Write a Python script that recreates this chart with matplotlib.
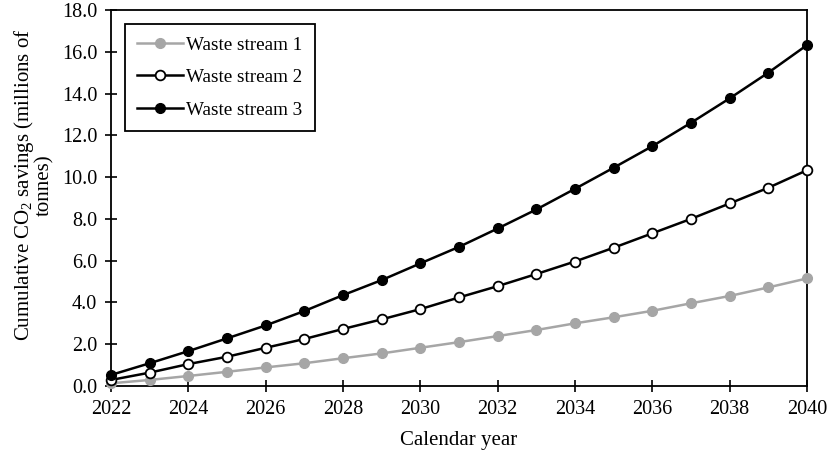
import numpy as np
import matplotlib
matplotlib.use("Agg")
import matplotlib.pyplot as plt
from matplotlib.ticker import FormatStrFormatter

plt.rcParams['font.family'] = ['Liberation Serif', 'DejaVu Serif']
plt.rcParams['mathtext.fontset'] = 'custom'
plt.rcParams['mathtext.rm'] = 'Liberation Serif'
plt.rcParams['mathtext.it'] = 'Liberation Serif:italic'

years = np.arange(2022, 2041)
stream_1 = [0.13, 0.29, 0.48, 0.68, 0.89, 1.09, 1.33, 1.56, 1.83, 2.10,
            2.39, 2.68, 3.00, 3.29, 3.60, 3.96, 4.31, 4.72, 5.15]
stream_2 = [0.29, 0.64, 1.05, 1.40, 1.83, 2.25, 2.73, 3.19, 3.68, 4.24,
            4.78, 5.36, 5.96, 6.62, 7.31, 8.00, 8.74, 9.49, 10.33]
stream_3 = [0.53, 1.09, 1.67, 2.28, 2.90, 3.59, 4.35, 5.07, 5.87, 6.66,
            7.54, 8.45, 9.44, 10.45, 11.48, 12.60, 13.77, 15.00, 16.32]
labels = ["Waste stream 1", "Waste stream 2", "Waste stream 3"]

fig = plt.figure(figsize=(8.31, 4.5), dpi=100)
ax = fig.add_axes([0.1336, 0.1422, 0.8375, 0.8356])

ax.plot(years, stream_1, '-o', color='#a6a6a6', lw=1.8, ms=7,
        mfc='#a6a6a6', mec='#a6a6a6', label=labels[0], clip_on=False, zorder=3)
ax.plot(years, stream_2, '-o', color='black', lw=1.8, ms=7,
        mfc='white', mec='black', mew=1.3, label=labels[1], clip_on=False, zorder=3)
ax.plot(years, stream_3, '-o', color='black', lw=1.8, ms=7,
        mfc='black', mec='black', label=labels[2], clip_on=False, zorder=3)

ax.set_xlim(2022, 2040)
ax.set_ylim(0, 18)
ax.set_xticks(np.arange(2022, 2041, 2))
ax.set_yticks(np.arange(0, 18.1, 2))
ax.yaxis.set_major_formatter(FormatStrFormatter('%.1f'))
ax.tick_params(direction='inout', length=8, width=1.2, labelsize=14.5, colors='black')
ax.tick_params(axis='x', pad=6)
ax.tick_params(axis='y', pad=6)
for s in ax.spines.values():
    s.set_linewidth(1.3)

ax.set_xlabel("Calendar year", fontsize=15, labelpad=9)
ax.set_ylabel("Cumulative CO$_2$ savings (millions of\ntonnes)", fontsize=15,
              linespacing=0.95)
ax.yaxis.set_label_coords(-0.081, 0.535)

leg = ax.legend(loc='upper left', bbox_to_anchor=(0.02, 0.963), fontsize=13.8,
                fancybox=False, edgecolor='black', framealpha=1,
                handlelength=2.4, handletextpad=0.15, borderpad=0.65,
                labelspacing=0.78, borderaxespad=0)
leg.get_frame().set_linewidth(1.3)

fig.savefig("out.png", dpi=100)
